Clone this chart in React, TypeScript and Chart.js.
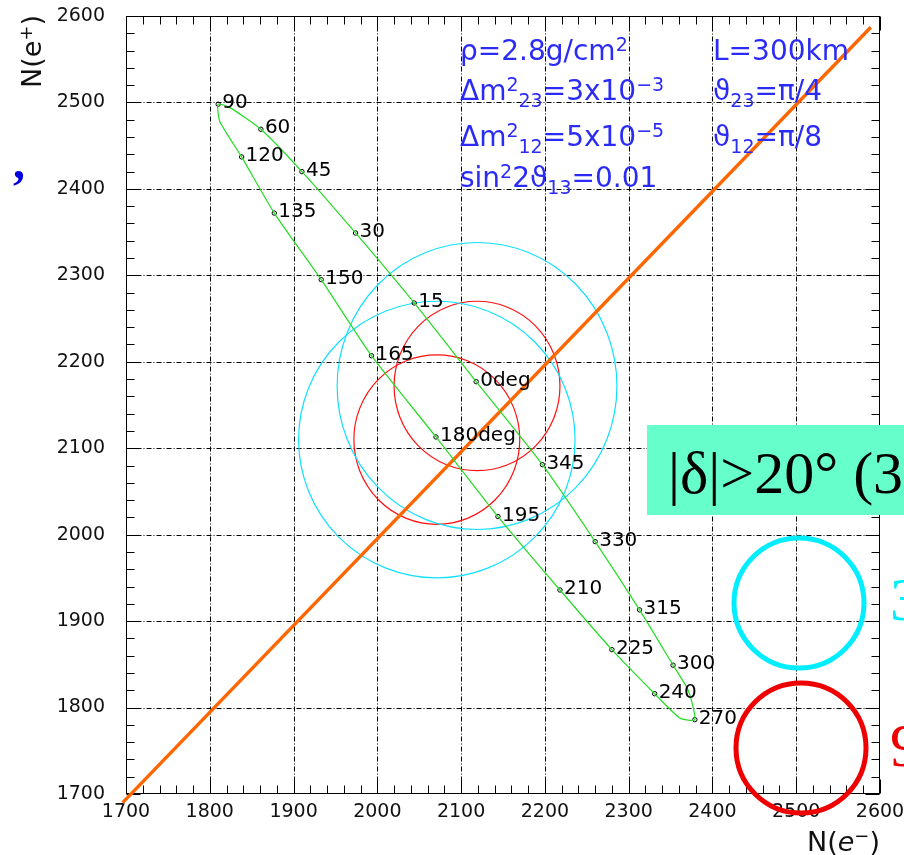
import React, { useEffect, useRef } from 'react';
import { Chart, registerables } from 'chart.js';

Chart.register(...registerables);

// ---- data ----
const tickValues = [1700, 1800, 1900, 2000, 2100, 2200, 2300, 2400, 2500, 2600];
const minorStep = 20;

// CP phase delta points along the green ellipse (0..345 deg, step 15)
const deltaLabels = ['0deg', '15', '30', '45', '60', '', '90', '', '120', '135', '150', '165', '180deg', '195', '210', '225', '240', '', '270', '', '300', '315', '330', '345'];
const deltaX = [2118, 2044, 1974, 1910, 1861, 1824, 1810, 1812, 1838, 1877, 1933, 1993, 2070, 2144, 2218, 2280, 2331, 2361, 2379, 2371, 2353, 2313, 2260, 2197];
const deltaY = [2177, 2268, 2349, 2420, 2469, 2494, 2498, 2478, 2437, 2372, 2295, 2207, 2113, 2021, 1936, 1867, 1816, 1788, 1786, 1820, 1849, 1913, 1992, 2081];

// contour ellipses (data units)
const contourCX = [2119, 2071, 2119, 2071];
const contourCY = [2172, 2110, 2172, 2110];
const contourRX = [99, 99, 167, 165];
const contourRY = [98, 98, 166, 160];
const contourColors = ['#ff1010', '#ff1010', '#10e0ff', '#10e0ff'];

// N(e+) = N(e-) line
const diagX = [1696, 2589];
const diagY = [1690, 2587];

type Seg = { t: string; k?: 'sup' | 'sub'; i?: boolean };

function drawRich(ctx: CanvasRenderingContext2D, x: number, y: number, segs: Seg[], size: number, small: number, family: string) {
  let cx = x;
  for (const s of segs) {
    const fs = s.k ? small : size;
    ctx.font = `${s.i ? 'italic ' : ''}${fs}px ${family}`;
    const dy = s.k === 'sup' ? -size * 0.33 : s.k === 'sub' ? size * 0.25 : 0;
    ctx.fillText(s.t, cx, y + dy);
    cx += ctx.measureText(s.t).width;
  }
}

const framePlugin = {
  id: 'frame',
  beforeDatasetsDraw(chart: any) {
    const { ctx, chartArea: a, scales } = chart;
    const xs = scales.x, ys = scales.y;
    const L = Math.round(a.left) + 0.5, R = Math.round(a.right) - 0.5;
    const T = Math.round(a.top) + 0.5, B = Math.round(a.bottom) - 0.5;
    ctx.save();
    ctx.strokeStyle = '#000';
    ctx.lineWidth = 1;
    const line = (x1: number, y1: number, x2: number, y2: number) => {
      ctx.beginPath(); ctx.moveTo(x1, y1); ctx.lineTo(x2, y2); ctx.stroke();
    };
    // dash-dot grid
    ctx.setLineDash([5, 2, 1, 2]);
    tickValues.slice(1, -1).forEach((v) => {
      const px = Math.round(xs.getPixelForValue(v)) + 0.5;
      line(px, T, px, B);
      const py = Math.round(ys.getPixelForValue(v)) + 0.5;
      line(L, py, R, py);
    });
    ctx.setLineDash([]);
    // inward ticks
    const lo = tickValues[0], hi = tickValues[tickValues.length - 1];
    for (let v = lo; v <= hi; v += minorStep) {
      const major = (v - lo) % 100 === 0;
      const len = major ? 14 : 8;
      const px = Math.round(xs.getPixelForValue(v)) + 0.5;
      line(px, B, px, B - len);
      line(px, T, px, T + len);
      const py = Math.round(ys.getPixelForValue(v)) + 0.5;
      line(L, py, L + len, py);
      line(R, py, R - len, py);
    }
    ctx.strokeRect(L, T, R - L, B - T);
    // contours
    for (let i = 0; i < contourCX.length; i++) {
      const cx = xs.getPixelForValue(contourCX[i]);
      const cy = ys.getPixelForValue(contourCY[i]);
      const rx = Math.abs(xs.getPixelForValue(contourCX[i] + contourRX[i]) - cx);
      const ry = Math.abs(ys.getPixelForValue(contourCY[i] + contourRY[i]) - cy);
      ctx.strokeStyle = contourColors[i];
      ctx.lineWidth = 1.2;
      ctx.beginPath();
      ctx.ellipse(cx, cy, rx, ry, 0, 0, Math.PI * 2);
      ctx.stroke();
    }
    ctx.restore();
  },
};

const labelPlugin = {
  id: 'pointLabels',
  afterDatasetsDraw(chart: any) {
    const { ctx } = chart;
    const meta = chart.getDatasetMeta(1);
    ctx.save();
    ctx.fillStyle = '#000';
    ctx.font = "20px 'DejaVu Sans'";
    ctx.textBaseline = 'middle';
    ctx.textAlign = 'left';
    const labelled = deltaLabels.filter((l) => l !== '');
    meta.data.forEach((el: any, i: number) => {
      ctx.fillText(labelled[i], el.x + 4, el.y - 1);
    });
    ctx.restore();
  },
};

const overlayPlugin = {
  id: 'overlay',
  afterDraw(chart: any) {
    const ctx: CanvasRenderingContext2D = chart.ctx;
    ctx.save();
    ctx.textBaseline = 'alphabetic';
    ctx.textAlign = 'left';
    const fam = "'DejaVu Sans'";
    // parameter text
    ctx.fillStyle = '#2b2bf6';
    drawRich(ctx, 460, 60, [{ t: 'ρ=2.8g/cm' }, { t: '2', k: 'sup' }], 28, 19, fam);
    drawRich(ctx, 713, 60, [{ t: 'L=300km' }], 28, 19, fam);
    drawRich(ctx, 460, 100, [{ t: 'Δm' }, { t: '2', k: 'sup' }, { t: '23', k: 'sub' }, { t: '=3x10' }, { t: '−3', k: 'sup' }], 28, 19, fam);
    drawRich(ctx, 713, 100, [{ t: 'ϑ' }, { t: '23', k: 'sub' }, { t: '=π/4' }], 28, 19, fam);
    drawRich(ctx, 460, 146, [{ t: 'Δm' }, { t: '2', k: 'sup' }, { t: '12', k: 'sub' }, { t: '=5x10' }, { t: '−5', k: 'sup' }], 28, 19, fam);
    drawRich(ctx, 713, 146, [{ t: 'ϑ' }, { t: '12', k: 'sub' }, { t: '=π/8' }], 28, 19, fam);
    drawRich(ctx, 460, 187, [{ t: 'sin' }, { t: '2', k: 'sup' }, { t: '2ϑ' }, { t: '13', k: 'sub' }, { t: '=0.01' }], 28, 19, fam);

    // axis titles
    ctx.fillStyle = '#111';
    drawRich(ctx, 807, 851, [{ t: 'N(' }, { t: 'e', i: true }, { t: '−', k: 'sup' }, { t: ')' }], 27, 18, fam);
    ctx.save();
    ctx.translate(41, 88);
    ctx.rotate(-Math.PI / 2);
    drawRich(ctx, 0, 0, [{ t: 'N(e' }, { t: '+', k: 'sup' }, { t: ')' }], 27, 18, fam);
    ctx.restore();

    // stray comma
    ctx.fillStyle = '#0000e0';
    ctx.font = "bold 48px 'Liberation Serif'";
    ctx.fillText(',', 13, 178);

    // teal box
    ctx.fillStyle = '#66ffcc';
    ctx.fillRect(647, 425, 904 - 647, 90);
    ctx.fillStyle = '#000';
    ctx.font = "60px 'Liberation Serif'";
    ctx.fillText('|δ|>20° (3', 668, 493);

    // rings
    ctx.lineWidth = 5;
    ctx.strokeStyle = '#00eeff';
    ctx.beginPath(); ctx.arc(799, 603, 65, 0, Math.PI * 2); ctx.stroke();
    ctx.strokeStyle = '#ee0000';
    ctx.beginPath(); ctx.arc(801, 748, 65, 0, Math.PI * 2); ctx.stroke();
    ctx.font = "62px 'Liberation Serif'";
    ctx.fillStyle = '#00eeff';
    ctx.fillText('3', 890, 620);
    ctx.fillStyle = '#ee0000';
    ctx.fillText('9', 890, 766);
    ctx.restore();
  },
};

export default function App() {
  const ref = useRef<HTMLCanvasElement | null>(null);
  useEffect(() => {
    document.body.style.margin = '0';
    document.body.style.overflow = 'hidden';
    const canvas = ref.current;
    if (!canvas) return;
    const curve = deltaX.map((x, i) => ({ x, y: deltaY[i] }));
    curve.push({ x: deltaX[0], y: deltaY[0] });
    const markers = deltaX
      .map((x, i) => ({ x, y: deltaY[i], l: deltaLabels[i] }))
      .filter((p) => p.l !== '')
      .map((p) => ({ x: p.x, y: p.y }));
    const diag = diagX.map((x, i) => ({ x, y: diagY[i] }));
    const tickFont = { family: "'DejaVu Sans'", size: 19 };
    const setTicks = (s: any) => { s.ticks = tickValues.map((v) => ({ value: v })); };
    const chart = new Chart(canvas, {
      type: 'scatter',
      data: {
        datasets: [
          { data: curve, showLine: true, borderColor: '#22dd22', borderWidth: 1.2, pointRadius: 0, tension: 0.2 } as any,
          { data: markers, showLine: false, pointRadius: 2.2, pointStyle: 'circle', borderColor: '#000', borderWidth: 1, backgroundColor: 'rgba(0,0,0,0)' } as any,
          { data: diag, showLine: true, borderColor: '#ff6600', borderWidth: 3.4, pointRadius: 0, clip: false } as any,
        ],
      },
      options: {
        animation: false,
        responsive: false,
        devicePixelRatio: 1,
        layout: { padding: { top: 16, right: 24, left: 0, bottom: 0 } },
        plugins: { legend: { display: false }, tooltip: { enabled: false } },
        scales: {
          x: {
            type: 'linear', min: 1700, max: 2600,
            afterBuildTicks: setTicks,
            ticks: { font: tickFont, color: '#111', padding: 7, maxRotation: 0, autoSkip: false, callback: (v: any) => String(v) },
            grid: { display: false, drawTicks: false },
            border: { display: false },
            afterFit: (s: any) => { s.height = 61; s.paddingLeft = 0; s.paddingRight = 0; },
          },
          y: {
            type: 'linear', min: 1700, max: 2600,
            afterBuildTicks: setTicks,
            ticks: { font: tickFont, color: '#111', padding: 21, autoSkip: false, callback: (v: any) => String(v) },
            grid: { display: false, drawTicks: false },
            border: { display: false },
            afterFit: (s: any) => { s.width = 126; s.paddingTop = 0; s.paddingBottom = 0; },
          },
        },
      } as any,
      plugins: [framePlugin, labelPlugin, overlayPlugin],
    });
    return () => chart.destroy();
  }, []);
  return <canvas ref={ref} width={904} height={855} style={{ display: 'block' }} />;
}
